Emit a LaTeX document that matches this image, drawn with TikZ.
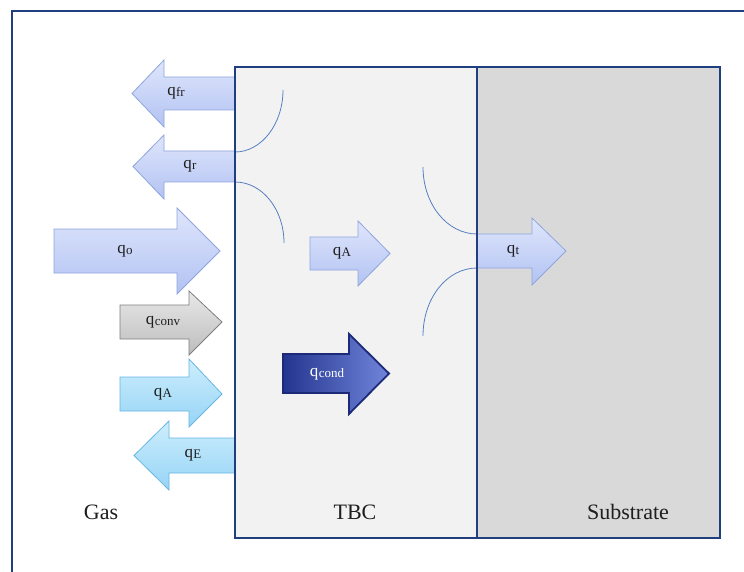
\documentclass[tikz,border=0pt]{standalone}
\usepackage{fontspec}
\setmainfont{Liberation Serif}
\definecolor{navy}{HTML}{1F3F7F}
\definecolor{arccol}{HTML}{5580C0}
\definecolor{tbcfill}{HTML}{F2F2F2}
\definecolor{subfill}{HTML}{D9D9D9}
\definecolor{lbTop}{HTML}{DFE6FC}
\definecolor{lbBot}{HTML}{B2C2F2}
\definecolor{lbLine}{HTML}{8EA6DC}
\definecolor{grTop}{HTML}{E8E8E8}
\definecolor{grBot}{HTML}{BDBDBD}
\definecolor{grLine}{HTML}{7F7F7F}
\definecolor{cyTop}{HTML}{CDEEFD}
\definecolor{cyBot}{HTML}{96D4F5}
\definecolor{cyLine}{HTML}{66B6E4}
\definecolor{cdLeft}{HTML}{24358F}
\definecolor{cdMid}{HTML}{3F53B4}
\definecolor{cdRight}{HTML}{7085DA}
\definecolor{cdLine}{HTML}{1C2A78}
\definecolor{txt}{HTML}{1E1E1E}
% block arrow: style, x0, xh, xtip, ytop, ybot, headtop, headbot
\newcommand{\blockarrow}[8]{%
  \draw[#1] (#2,#5) -- (#3,#5) -- (#3,#7) -- (#4,{(#5+#6)/2}) -- (#3,#8) -- (#3,#6) -- (#2,#6) -- cycle;}
\newcommand{\qlab}[1]{q\kern0.3pt\raisebox{-1.2pt}{\fontsize{13}{13}\selectfont #1}}
\begin{document}
\begin{tikzpicture}[x=1pt,y=-1pt,
  lblue/.style={top color=lbTop, bottom color=lbBot, draw=lbLine, line width=0.8pt, line join=miter},
  gray arrow/.style={top color=grTop, bottom color=grBot, draw=grLine, line width=0.8pt},
  cyan arrow/.style={top color=cyTop, bottom color=cyBot, draw=cyLine, line width=0.8pt},
  cond arrow/.style={left color=cdLeft, middle color=cdMid, right color=cdRight, draw=cdLine, line width=1.8pt, line join=miter},
  qtext/.style={font=\fontsize{17}{17}\selectfont, text=txt, inner sep=0pt},
  region/.style={font=\fontsize{22}{22}\selectfont, text=txt, inner sep=0pt},
  frame/.style={draw=navy, line width=2.8pt},
  iface/.style={draw=arccol, line width=0.8pt}]
\useasboundingbox (0,0) rectangle (744,572);
\fill[white] (0,0) rectangle (744,572);
% outer frame
\draw[draw=navy, line width=2.4pt] (744,11) -- (12,11) -- (12,572);
% layers
\fill[tbcfill] (235,67) rectangle (477,538);
\fill[subfill] (477,67) rectangle (720,538);
% interface arcs
\draw[iface] (283,90) .. controls (283,124) and (261.5,152) .. (235,152);
\draw[iface] (235,182) .. controls (262,182) and (284,209) .. (284,243);
\draw[iface] (423,167) .. controls (423,204) and (447,234) .. (477,234);
\draw[iface] (477,268) .. controls (447,268) and (423,298) .. (423,336);
% arrows
\blockarrow{lblue}{235}{164}{132}{77}{110}{60}{127}
\blockarrow{lblue}{235}{164}{133}{151}{182}{135}{199}
\blockarrow{lblue}{54}{177}{220}{229}{273}{208}{294}
\blockarrow{gray arrow}{120}{189}{222}{305}{339}{291}{355}
\blockarrow{cyan arrow}{120}{189}{222}{377}{411}{359}{427}
\blockarrow{cyan arrow}{235}{169}{134}{438}{473}{421}{490}
\blockarrow{lblue}{310}{358}{390}{237}{270}{221}{286}
\blockarrow{cond arrow}{283}{349}{389}{354}{393}{334}{414}
\blockarrow{lblue}{477}{532}{566}{234}{268}{218}{285}
% layer borders
\draw[frame] (235,67) rectangle (720,538);
\draw[frame] (477,67) -- (477,538);
% labels
\node[qtext] (qfr) at (176,93) {\qlab{fr}};
\node[qtext] (qr) at (190,166) {\qlab{r}};
\node[qtext] (qo) at (125,251) {\qlab{o}};
\node[qtext] (qconv) at (163,322) {\qlab{conv}};
\node[qtext] (qAg) at (163,394) {\qlab{A}};
\node[qtext] (qE) at (193,455) {\qlab{E}};
\node[qtext] (qAt) at (342,253) {\qlab{A}};
\node[qtext, text=white] (qcond) at (327,374) {\qlab{cond}};
\node[qtext] (qt) at (513,251) {\qlab{t}};
\node[region] (gas) at (101,512) {Gas};
\node[region] (tbc) at (355,512) {TBC};
\node[region] (sub) at (628,512) {Substrate};
\end{tikzpicture}
\end{document}
